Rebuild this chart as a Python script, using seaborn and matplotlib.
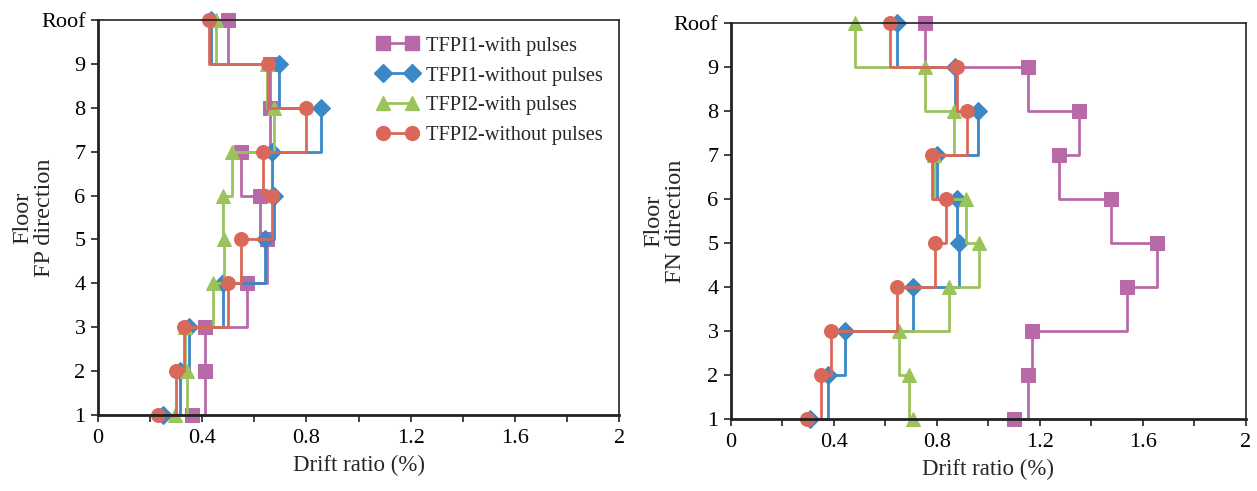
import numpy as np
import pandas as pd
import matplotlib
matplotlib.use("Agg")
import matplotlib.pyplot as plt
import seaborn as sns

floors = [1, 2, 3, 4, 5, 6, 7, 8, 9, 10]
floor_labels = ["1", "2", "3", "4", "5", "6", "7", "8", "9", "Roof"]
x_ticks = [0, 0.4, 0.8, 1.2, 1.6, 2]
x_tick_labels = ["0", "0.4", "0.8", "1.2", "1.6", "2"]

series_names = ["TFPI1-with pulses", "TFPI1-without pulses",
                "TFPI2-with pulses", "TFPI2-without pulses"]

# FP direction drift ratios (%), floor 1 .. roof
fp_tfpi1_with = [0.36, 0.41, 0.41, 0.57, 0.65, 0.62, 0.55, 0.66, 0.66, 0.50]
fp_tfpi1_without = [0.25, 0.315, 0.35, 0.48, 0.64, 0.675, 0.667, 0.856, 0.695, 0.434]
fp_tfpi2_with = [0.296, 0.34, 0.334, 0.44, 0.484, 0.478, 0.513, 0.675, 0.647, 0.453]
fp_tfpi2_without = [0.232, 0.30, 0.33, 0.50, 0.55, 0.667, 0.632, 0.80, 0.654, 0.426]

# FN direction drift ratios (%), floor 1 .. roof
fn_tfpi1_with = [1.10, 1.152, 1.169, 1.54, 1.654, 1.476, 1.273, 1.35, 1.152, 0.755]
fn_tfpi1_without = [0.306, 0.377, 0.442, 0.707, 0.885, 0.877, 0.80, 0.959, 0.872, 0.646]
fn_tfpi2_with = [0.707, 0.69, 0.651, 0.846, 0.965, 0.913, 0.79, 0.868, 0.752, 0.48]
fn_tfpi2_without = [0.296, 0.351, 0.387, 0.645, 0.793, 0.836, 0.78, 0.916, 0.879, 0.619]

colors = ["#B86AA8", "#3A88C6", "#9BC35B", "#D9685A"]
markers = ["s", "D", "^", "o"]
msizes = [10, 9, 10, 10]

sns.set_style("ticks")
plt.rcParams["font.family"] = ["Liberation Serif", "DejaVu Serif"]
plt.rcParams["mathtext.fontset"] = "stix"

fig = plt.figure(figsize=(12.57, 4.91), dpi=100)
ax1 = fig.add_axes([0.078, 0.1548, 0.4145, 0.8045])
ax2 = fig.add_axes([0.5815, 0.1466, 0.4097, 0.8065])

panels = [
    (ax1, [fp_tfpi1_with, fp_tfpi1_without, fp_tfpi2_with, fp_tfpi2_without],
     "Floor\nFP direction", -0.083),
    (ax2, [fn_tfpi1_with, fn_tfpi1_without, fn_tfpi2_with, fn_tfpi2_without],
     "Floor\nFN direction", -0.087),
]

for ax, data, ylab, lx in panels:
    for name, vals, c, m, ms in zip(series_names, data, colors, markers, msizes):
        df = pd.DataFrame({"drift": vals, "floor": floors})
        sns.lineplot(data=df, x="drift", y="floor", ax=ax, sort=False, estimator=None,
                     drawstyle="steps-post", color=c, marker=m, markersize=ms,
                     markeredgecolor=c, linewidth=2.0, label=name, clip_on=False,
                     legend=False)
    ax.set_xlim(0, 2)
    ax.set_ylim(1, 10)
    ax.set_xticks(x_ticks)
    ax.set_xticks(np.arange(0.2, 2.0, 0.4), minor=True)
    ax.set_xticklabels(x_tick_labels)
    ax.set_yticks(floors)
    ax.set_yticklabels(floor_labels)
    ax.tick_params(axis="both", which="both", direction="out", length=5, width=1.2,
                   labelsize=16, colors="#222222", labelcolor="black")
    ax.tick_params(axis="x", pad=5)
    ax.tick_params(axis="y", pad=4)
    ax.set_xlabel("Drift ratio (%)", fontsize=16.5, labelpad=5)
    ax.set_ylabel(ylab, fontsize=17.5, multialignment="center", linespacing=1.05)
    ax.yaxis.set_label_coords(lx, 0.5)
    for side in ["left", "bottom"]:
        ax.spines[side].set_linewidth(2.0)
        ax.spines[side].set_color("#222222")
    for side in ["top", "right"]:
        ax.spines[side].set_visible(True)
        ax.spines[side].set_linewidth(1.2)
        ax.spines[side].set_color("#222222")

handles = [plt.Line2D([], [], color=c, marker=m, markersize=ms, linewidth=2.0)
           for c, m, ms in zip(colors, markers, msizes)]
ax1.legend(handles, series_names, loc="upper right", frameon=False, fontsize=14.7,
           numpoints=2, handlelength=2.0, handletextpad=0.4, labelspacing=0.52,
           bbox_to_anchor=(1.0, 1.0), borderaxespad=0.4)

fig.savefig("out.png", dpi=100)
